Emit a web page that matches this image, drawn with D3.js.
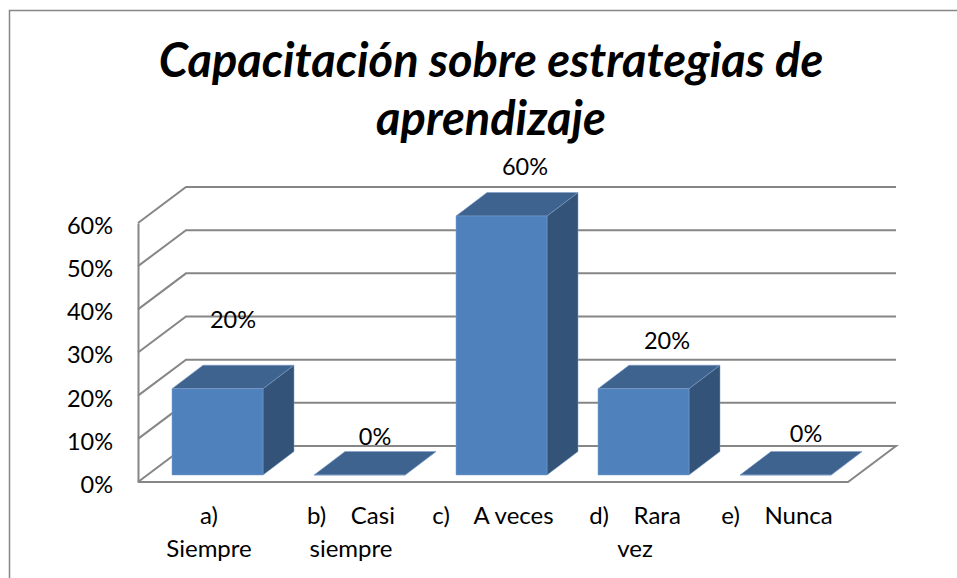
<!DOCTYPE html>
<html>
<head>
<meta charset="utf-8">
<script src="https://cdn.jsdelivr.net/npm/d3@7"></script>
<style>
body { margin: 0; background: #fff; }
text { font-family: Lato, Carlito, sans-serif; fill: #000; }
</style>
</head>
<body>
<div id="chart"></div>
<script>
var titleLines = ["Capacitación sobre estrategias de", "aprendizaje"];
var categories = ["a)|Siempre", "b)    Casi|siempre", "c)    A veces", "d)    Rara|vez", "e)    Nunca"];
var values = [0.2, 0, 0.6, 0.2, 0];
var yTicks = [0, 0.1, 0.2, 0.3, 0.4, 0.5, 0.6];
// labels were moved by hand in the original chart
var labelNudgeX = [0, 0, 8, 8, 5];
var labelNudgeY = [-68, -37, -48, -47, -40];

var width = 957, height = 578;

// plot box, front edge of the 3d floor
var x = d3.scaleBand().domain(categories).range([138, 848]);
var y = d3.scaleLinear().domain([0, 0.6]).range([482, 223]);

// 3d projection
var wallDx = 48, wallDy = -36;
var barDx = 31, barDy = -23.5;
var baseDx = 8.5, baseDy = -7;
var barWidth = 91;

var svg = d3.select("#chart")
    .append("svg")
    .attr("width", width)
    .attr("height", height)
    .style("display", "block");

//Outer frame, only top and left are in the picture
svg.append("path")
    .attr("d", "M9.5,578V10.5H957")
    .attr("fill", "none")
    .attr("stroke", "#868686")
    .attr("stroke-width", 1.5);

//Title
svg.append("g").selectAll("text")
    .data(titleLines)
    .join("text")
    .attr("x", 491)
    .attr("y", function(d, i) { return 77 + i * 58; })
    .attr("text-anchor", "middle")
    .attr("font-size", 47)
    .attr("font-weight", "bold")
    .attr("font-style", "italic")
    .text(function(d) { return d; });

//Walls and gridlines
var line = d3.line();
var x0 = x.range()[0], x1 = x.range()[1];
var grid = svg.append("g")
    .attr("fill", "none")
    .attr("stroke", "#868686")
    .attr("stroke-width", 2);

grid.selectAll("path.gridline")
    .data(yTicks.slice(1))
    .join("path")
    .attr("class", "gridline")
    .attr("d", function(d) {
        return line([[x0, y(d)], [x0 + wallDx, y(d) + wallDy], [x1 + wallDx, y(d) + wallDy]]);
    });

grid.append("path")
    .attr("d", line([[x0, y(0)], [x0 + wallDx, y(0) + wallDy], [x1 + wallDx, y(0) + wallDy], [x1, y(0)], [x0, y(0)]]));

//Define the axes
var yAxis = d3.axisLeft(y).tickValues(yTicks).tickSize(0).tickPadding(25).tickFormat(d3.format(".0%"));
var xAxis = d3.axisBottom(x).tickSize(0).tickFormat(function() { return ""; });

var yG = svg.append("g")
    .attr("transform", "translate(" + x0 + ",0)")
    .call(yAxis);
yG.select(".domain").attr("stroke", "#868686").attr("stroke-width", 2);
yG.selectAll("text")
    .attr("font-size", 23.5)
    .attr("dy", "0.44em")
    .style("font-family", null);

var xG = svg.append("g")
    .attr("transform", "translate(0," + y(0) + ")")
    .call(xAxis);
xG.select(".domain").remove();
xG.selectAll(".tick text")
    .attr("font-size", 24)
    .attr("y", 0)
    .attr("dy", null)
    .style("font-family", null)
    .style("white-space", "pre")
    .each(function(d) {
        var t = d3.select(this);
        d.split("|").forEach(function(part, i) {
            t.append("tspan")
                .attr("x", 0)
                .attr("y", 42 + i * 33)
                .text(part);
        });
    });

//Bars
function barLeft(d, i) { return x(categories[i]) + (x.bandwidth() - barWidth) / 2 + baseDx; }

var bars = svg.append("g")
    .selectAll("g")
    .data(values)
    .join("g")
    .attr("stroke", "#7f9fcb")
    .attr("stroke-width", 0.5);

// side face
bars.append("path")
    .attr("fill", "#335379")
    .attr("d", function(d, i) {
        var l = barLeft(d, i) + barWidth, b = y(0) + baseDy, t = y(d) + baseDy;
        return line([[l, b], [l + barDx, b + barDy], [l + barDx, t + barDy], [l, t]]) + "Z";
    });

// top face
bars.append("path")
    .attr("fill", "#3e638f")
    .attr("d", function(d, i) {
        var l = barLeft(d, i), t = y(d) + baseDy;
        return line([[l, t], [l + barDx, t + barDy], [l + barWidth + barDx, t + barDy], [l + barWidth, t]]) + "Z";
    });

// front face
bars.append("path")
    .attr("fill", "#4f81bd")
    .attr("d", function(d, i) {
        var l = barLeft(d, i), b = y(0) + baseDy, t = y(d) + baseDy;
        return line([[l, b], [l, t], [l + barWidth, t], [l + barWidth, b]]) + "Z";
    });

//Value labels
svg.append("g").selectAll("text")
    .data(values)
    .join("text")
    .attr("x", function(d, i) { return barLeft(d, i) + barWidth / 2 + barDx / 2 + labelNudgeX[i]; })
    .attr("y", function(d, i) { return y(d) + labelNudgeY[i]; })
    .attr("text-anchor", "middle")
    .attr("font-size", 23.5)
    .text(function(d) { return d3.format(".0%")(d); });
</script>
</body>
</html>
